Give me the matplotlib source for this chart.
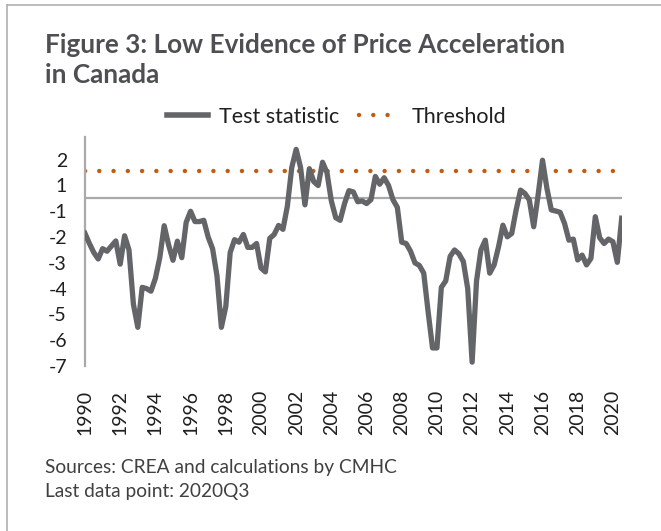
import numpy as np
import matplotlib
matplotlib.use("Agg")
import matplotlib.pyplot as plt
from matplotlib.lines import Line2D

# quarterly test statistic, 1990Q1 .. 2020Q3
test_stat = [
    -1.36, -1.75, -2.10, -2.35, -1.95, -2.05, -1.85, -1.65, -2.55, -1.45,
    -2.00, -4.10, -5.00, -3.45, -3.50, -3.60, -3.10, -2.30, -1.06, -1.80,
    -2.40, -1.66, -2.30, -0.93, -0.50, -0.90, -0.90, -0.85, -1.50, -1.95,
    -3.00, -5.00, -4.20, -2.10, -1.60, -1.70, -1.40, -1.90, -1.90, -1.75,
    -2.70, -2.85, -1.55, -1.40, -1.05, -1.20, -0.30, 1.20, 1.90, 1.20,
    -0.25, 1.15, 0.65, 0.50, 1.40, 1.00, -0.10, -0.75, -0.85, -0.20,
    0.30, 0.25, -0.13, -0.10, -0.20, -0.05, 0.85, 0.55, 0.80, 0.50,
    -0.05, -0.35, -1.70, -1.75, -2.05, -2.50, -2.60, -2.90, -4.40, -5.80,
    -5.80, -3.45, -3.20, -2.25, -2.00, -2.15, -2.45, -3.50, -6.35, -3.20,
    -2.00, -1.62, -2.90, -2.58, -1.88, -1.04, -1.49, -1.36, -0.45, 0.32,
    0.19, -0.06, -1.10, 0.13, 1.48, 0.39, -0.45, -0.49, -0.54, -0.97,
    -1.62, -1.58, -2.39, -2.20, -2.58, -2.33, -0.71, -1.53, -1.75, -1.58,
    -1.68, -2.48, -0.77,
]
threshold = 1.07
start_year = 1990

year_ticks = list(range(1990, 2021, 2))
ytick_pos = [-6.5, -5.5, -4.5, -3.5, -2.5, -1.5, -0.5, 0.5, 1.5]
ytick_labels = ["-7", "-6", "-5", "-4", "-3", "-2", "-1", "1", "2"]

plt.rcParams['font.family'] = ['Lato', 'DejaVu Sans']

x = start_year + np.arange(len(test_stat)) / 4

fig = plt.figure(figsize=(6.61, 5.31), dpi=100)
ax = fig.add_axes([85 / 661, 1 - 366 / 531, (621.7 - 85) / 661, (366 - 137) / 531])

ax.axhline(0, color="#a9a9a9", lw=1.6, zorder=1)
ax.axhline(threshold, color="#c55a11", lw=3.2, linestyle=(0, (0.01, 3.2)),
           dash_capstyle="round", zorder=2)
ax.plot(x, test_stat, color="#636569", lw=3.8, solid_joinstyle="round", zorder=3)

ax.set_xlim(x[0], x[-1])
ax.set_ylim(-6.5, 2.38)
ax.set_yticks(ytick_pos)
ax.set_yticklabels(ytick_labels)
ax.set_xticks(year_ticks)
ax.set_xticklabels([str(y) for y in year_ticks], rotation=90)
ax.tick_params(axis="both", length=0, labelsize=14, labelcolor="#1f1f1f")
ax.tick_params(axis="x", pad=17)
ax.tick_params(axis="y", pad=13)

for s in ["top", "right", "bottom"]:
    ax.spines[s].set_visible(False)
ax.spines["left"].set_color("#a9a9a9")
ax.spines["left"].set_linewidth(1.6)

# legend
handles = [
    Line2D([], [], color="#636569", lw=4),
    Line2D([], [], color="#c55a11", lw=3.2, linestyle=(0, (0.01, 3.2)), dash_capstyle="round"),
]
fig.legend(handles, ["Test statistic", "Threshold"], loc="center", ncol=2,
           bbox_to_anchor=(0.509, 1 - 117 / 531), frameon=False, fontsize=15.5,
           handlelength=1.9, handletextpad=0.5, columnspacing=0.95,
           labelcolor="#1f1f1f")

fig.text(45 / 661, 1 - 33 / 531, "Figure 3: Low Evidence of Price Acceleration\nin Canada",
         fontsize=18.8, fontweight="bold", color="#4d4f53", va="top", ha="left",
         linespacing=1.32)

fig.text(45 / 661, 1 - 468 / 531, "Sources: CREA and calculations by CMHC",
         fontsize=13.8, color="#404040", va="center", ha="left")
fig.text(45 / 661, 1 - 492 / 531, "Last data point: 2020Q3",
         fontsize=13.8, color="#404040", va="center", ha="left")

# thin frame on top and left like the source
fig.add_artist(Line2D([7 / 661, 7 / 661], [0, 1 - 5 / 531], color="#b0b0b0", lw=1.2))
fig.add_artist(Line2D([7 / 661, 1], [1 - 5 / 531, 1 - 5 / 531], color="#b0b0b0", lw=1.2))

fig.savefig("out.png", dpi=100)
